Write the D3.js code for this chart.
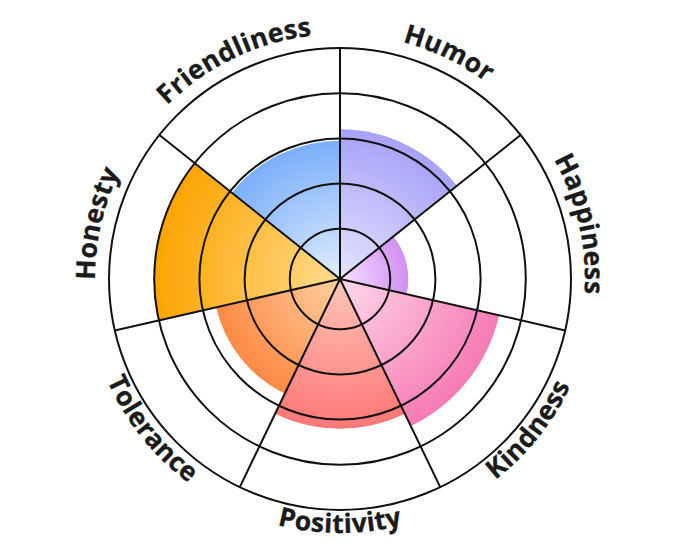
<!DOCTYPE html>
<html>
<head>
<meta charset="utf-8">
<script src="https://cdn.jsdelivr.net/npm/d3@7"></script>
<style>
  body { margin: 0; background: #fff; }
  svg { display: block; }
</style>
</head>
<body>
<svg id="chart" width="680" height="557"></svg>
<script>

var labels = ["Humor", "Happiness", "Kindness", "Positivity", "Tolerance", "Honesty", "Friendliness"];
var values = [3.2, 1.4, 3.5, 3.2, 2.7, 4.0, 2.95];
var rings = [1, 2, 3, 4, 5];
var maxValue = 5;

var innerColors = ["#e6e4ff", "#f6e0ff", "#ffd9ea", "#ffc6b8", "#ffcfa0", "#ffdc90", "#e0edff"];
var outerColors = ["#a6a2f8", "#d190f3", "#f67bb4", "#fd7878", "#fc8a44", "#fca400", "#7aaff9"];

var width = 680, height = 557;
var cx = 340, cy = 279;

var svg = d3.select("#chart");
var defs = svg.append("defs");

var angle = d3.scaleBand()
    .domain(labels)
    .range([0, 2 * Math.PI])
    .paddingInner(0).paddingOuter(0);

var r = d3.scaleLinear()
    .domain([0, maxValue])
    .range([5, 231]);

var data = labels.map(function (d, i) {
  return { label: d, value: values[i], inner: innerColors[i], outer: outerColors[i] };
});

// soft edge on the slices
defs.append("filter")
    .attr("id", "soft")
    .attr("x", "-10%").attr("y", "-10%").attr("width", "120%").attr("height", "120%")
    .append("feGaussianBlur")
    .attr("stdDeviation", 0.55);

var grad = defs.selectAll("radialGradient")
    .data(data)
    .enter().append("radialGradient")
    .attr("id", function (d, i) { return "g" + i; })
    .attr("gradientUnits", "userSpaceOnUse")
    .attr("cx", 0).attr("cy", 0)
    .attr("r", function (d) { return r(d.value); });
grad.append("stop").attr("offset", "0%").attr("stop-color", function (d) { return d.inner; });
grad.append("stop").attr("offset", "100%").attr("stop-color", function (d) { return d.outer; });

var g = svg.append("g").attr("transform", "translate(" + cx + "," + cy + ")");

var arc = d3.arc()
    .innerRadius(0)
    .outerRadius(function (d) { return r(d.value); })
    .startAngle(function (d) { return angle(d.label); })
    .endAngle(function (d) { return angle(d.label) + angle.bandwidth(); });

g.append("g")
    .attr("filter", "url(#soft)")
    .selectAll("path")
    .data(data)
    .enter().append("path")
    .attr("d", arc)
    .attr("fill", function (d, i) { return "url(#g" + i + ")"; });

// grid rings
g.append("g")
    .selectAll("circle")
    .data(rings)
    .enter().append("circle")
    .attr("r", function (d) { return r(d); })
    .attr("fill", "none")
    .attr("stroke", "#111")
    .attr("stroke-width", 2);

// spokes
g.append("g")
    .selectAll("line")
    .data(labels)
    .enter().append("line")
    .attr("x1", 0).attr("y1", 0)
    .attr("x2", function (d) { return r(maxValue) * Math.sin(angle(d)); })
    .attr("y2", function (d) { return -r(maxValue) * Math.cos(angle(d)); })
    .attr("stroke", "#111")
    .attr("stroke-width", 2)
    .attr("stroke-linecap", "round");

// curved labels
function pt(rad, a) { return [rad * Math.sin(a), -rad * Math.cos(a)]; }

var span = 0.75;
defs.selectAll("path.lab")
    .data(labels)
    .enter().append("path")
    .attr("class", "lab")
    .attr("id", function (d, i) { return "lab" + i; })
    .attr("d", function (d) {
      var mid = angle(d) + angle.bandwidth() / 2;
      var flip = mid > Math.PI / 2 && mid < 3 * Math.PI / 2;
      var rad = flip ? r(maxValue) + 23 : r(maxValue) + 14;
      var a0 = pt(rad, mid - span), a1 = pt(rad, mid + span);
      if (flip) return "M" + a1 + " A" + rad + "," + rad + " 0 0 0 " + a0;
      return "M" + a0 + " A" + rad + "," + rad + " 0 0 1 " + a1;
    })
    .attr("transform", "translate(" + cx + "," + cy + ")");

svg.append("g")
    .selectAll("text")
    .data(labels)
    .enter().append("text")
    .attr("font-family", "'Open Sans', sans-serif")
    .attr("font-weight", 700)
    .attr("font-size", "26.5px")
    .attr("letter-spacing", "0.3px")
    .attr("fill", "#1b1b1b")
    .attr("stroke", "#1b1b1b")
    .attr("stroke-width", 0.3)
    .attr("text-anchor", "middle")
    .append("textPath")
    .attr("href", function (d, i) { return "#lab" + i; })
    .attr("startOffset", "50%")
    .text(function (d) { return d; });

</script>
</body>
</html>
